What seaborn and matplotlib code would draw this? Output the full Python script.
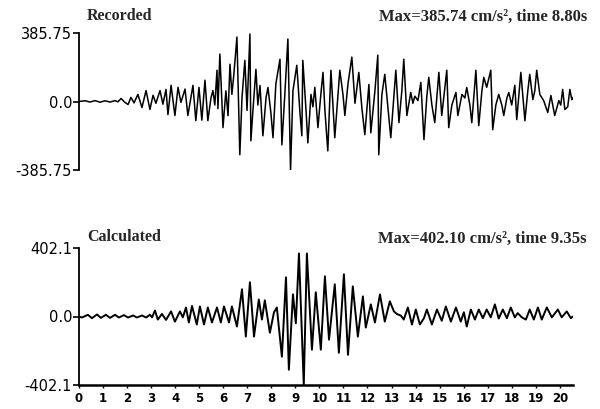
import matplotlib
matplotlib.use("Agg")
import matplotlib.pyplot as plt
import seaborn as sns
import pandas as pd

# ---- data (time in s, acceleration in cm/s^2) ----
rec_t = [0.00, 0.25, 0.46, 0.67, 0.87, 1.08, 1.29, 1.50, 1.62, 1.75, 1.91, 2.04, 2.16, 2.29,
         2.45, 2.62, 2.79, 2.95, 3.08, 3.20, 3.37, 3.49, 3.62, 3.70, 3.83, 3.99, 4.12, 4.24,
         4.41, 4.53, 4.74, 4.86, 4.99, 5.11, 5.24, 5.36, 5.49, 5.57, 5.65, 5.74, 5.78, 5.86,
         5.99, 6.11, 6.20, 6.28, 6.36, 6.44, 6.57, 6.69, 6.78, 6.90, 6.99, 7.11, 7.15, 7.23,
         7.36, 7.44, 7.53, 7.65, 7.78, 7.86, 7.98, 8.07, 8.19, 8.36, 8.44, 8.57, 8.69, 8.80,
         8.90, 9.06, 9.19, 9.27, 9.31, 9.44, 9.52, 9.65, 9.73, 9.81, 9.94, 10.06, 10.15, 10.23,
         10.35, 10.48, 10.64, 10.85, 10.98, 11.06, 11.19, 11.35, 11.48, 11.64, 11.77, 11.89,
         12.06, 12.14, 12.31, 12.43, 12.47, 12.60, 12.72, 12.85, 12.97, 13.18, 13.31, 13.43,
         13.51, 13.64, 13.80, 13.89, 13.97, 14.10, 14.22, 14.35, 14.47, 14.55, 14.68, 14.80,
         14.97, 15.09, 15.30, 15.38, 15.51, 15.68, 15.76, 15.93, 16.05, 16.13, 16.26, 16.34,
         16.51, 16.63, 16.76, 16.84, 16.96, 17.13, 17.21, 17.34, 17.46, 17.59, 17.67, 17.80,
         17.88, 18.00, 18.13, 18.21, 18.38, 18.55, 18.67, 18.75, 18.88, 18.96, 19.04, 19.17,
         19.33, 19.42, 19.50, 19.63, 19.79, 19.96, 20.04, 20.12, 20.21, 20.33, 20.42, 20.50, 20.54]
rec_a = [0, 4, -3, 5, -4, 4, -3, 5, -2, 17, -5, -17, 23, -8,
         40, -34, 62, -45, 35, -10, 62, -15, 68, -74, 91, -79, 80, -5,
         70, -79, 91, -108, 80, -105, 120, -108, 20, 62, -20, 176, -40, 267,
         -147, 60, -80, 210, 40, 150, 363, -300, 20, 232, -50, 380, -221, -60,
         181, -20, 90, -193, 20, 79, -60, -204, 100, 238, -244, 60, 352, -385.74,
         60, 204, -60, -193, 232, -40, -233, 40, -30, 80, -147, 40, 164, -50,
         -278, 176, -204, 176, 40, -79, 100, 250, -10, 164, -40, -187,
         96, -176, 60, 261, -300, 40, 153, -30, -204, 176, -119, 60,
         238, -79, 51, -10, 30, 5, 108, -215, 30, 136, -20, -119,
         164, -79, 176, -147, -20, 51, -79, 40, 20, 79, -20, -119,
         176, -136, 60, 136, 80, 176, -159, -20, 40, -20, -79, 20,
         51, -20, 91, -102, 164, -108, 60, 153, 11, 60, 176, 40,
         5, -30, -62, 34, -79, 5, -20, 68, -45, -30, 68, 10, 23]

calc_t = [0.00, 0.12, 0.37, 0.54, 0.75, 0.91, 1.12, 1.29, 1.50, 1.66, 1.87, 2.04, 2.25, 2.41,
          2.62, 2.79, 2.95, 3.04, 3.16, 3.28, 3.45, 3.62, 3.83, 3.99, 4.20, 4.32, 4.45, 4.57,
          4.70, 4.90, 5.03, 5.20, 5.36, 5.53, 5.74, 5.90, 6.03, 6.24, 6.36, 6.57, 6.78, 6.94,
          7.11, 7.28, 7.48, 7.61, 7.73, 7.94, 8.11, 8.23, 8.44, 8.61, 8.73, 8.90, 9.02, 9.15,
          9.35, 9.48, 9.69, 9.85, 10.06, 10.23, 10.40, 10.64, 10.81, 11.02, 11.19, 11.39, 11.60,
          11.81, 11.93, 12.14, 12.31, 12.52, 12.72, 12.93, 13.10, 13.22, 13.39, 13.51, 13.68,
          13.85, 14.01, 14.18, 14.35, 14.47, 14.68, 14.89, 15.09, 15.26, 15.47, 15.68, 15.88,
          16.01, 16.13, 16.30, 16.47, 16.63, 16.80, 16.96, 17.13, 17.30, 17.46, 17.63, 17.80,
          17.96, 18.13, 18.25, 18.42, 18.59, 18.75, 18.92, 19.09, 19.25, 19.46, 19.67, 19.92,
          20.08, 20.29, 20.46, 20.54]
calc_a = [0, -6, 10, -10, 12, -8, 10, -8, 10, -6, 8, -6, 6, -6,
          6, -6, 10, -5, 35, -18, 15, -20, 30, -30, 30, -5, 53, -35,
          62, -47, 59, -47, 53, -35, 53, -35, 59, -35, 59, -59, 160, -118,
          201, -118, 100, -18, 95, -95, 24, 53, -236, 230, -313, 130, -40, 370,
          -402.1, 370, -195, 142, -195, 236, -136, 189, -213, 248, -225, 177, -118,
          118, -65, 71, -35, 130, -30, 89, 30, 15, 5, -18, 53,
          -47, 41, -47, -10, 41, -47, 41, -25, 59, -30, 53, -30,
          25, -59, 41, -18, 41, -10, 41, -5, 71, -12, 41, -10,
          53, -5, 20, -5, -18, 41, -18, 53, -18, 53, -5, 41,
          -5, 30, -10, 0]

x_ticks = list(range(0, 21))
rec_lim = 385.75
calc_lim = 402.1
rec_title = "Recorded"
rec_max = "Max=385.74 cm/s², time 8.80s"
calc_title = "Calculated"
calc_max = "Max=402.10 cm/s², time 9.35s"

rec_df = pd.DataFrame({"t": rec_t, "a": rec_a})
calc_df = pd.DataFrame({"t": calc_t, "a": calc_a})

sns.set_theme(style="white")
plt.rcParams["font.family"] = ["DejaVu Sans"]

fig = plt.figure(figsize=(6.0, 4.09), dpi=100)
ax1 = fig.add_axes([79 / 600, 1 - 170 / 409, 494 / 600, 137 / 409])
ax2 = fig.add_axes([79 / 600, 1 - 385 / 409, 494 / 600, 137 / 409])

sns.lineplot(data=rec_df, x="t", y="a", ax=ax1, color="black", linewidth=1.1,
             estimator=None, sort=False)
sns.lineplot(data=calc_df, x="t", y="a", ax=ax2, color="black", linewidth=1.4,
             estimator=None, sort=False)
for ax in (ax1, ax2):
    for ln in ax.get_lines():
        ln.set_solid_joinstyle("round")

for ax, lim in ((ax1, rec_lim), (ax2, calc_lim)):
    ax.set_xlim(0, 20.55)
    ax.set_ylim(-lim, lim)
    ax.set_xlabel("")
    ax.set_ylabel("")
    ax.patch.set_alpha(0)
    for s in ("top", "right"):
        ax.spines[s].set_visible(False)
    ax.spines["left"].set_color("black")
    ax.spines["left"].set_linewidth(1.3)
    ax.set_yticks([lim, 0, -lim])
    ax.tick_params(axis="y", which="both", left=True, length=4, width=1.2,
                   direction="out", pad=1, labelsize=10.5, colors="black")

ax1.set_yticklabels(["385.75", "0.0", "-385.75"])
ax2.set_yticklabels(["402.1", "0.0", "-402.1"])

ax1.spines["bottom"].set_visible(False)
ax1.set_xticks([])

ax2.spines["bottom"].set_color("black")
ax2.spines["bottom"].set_linewidth(1.8)
ax2.set_xticks(x_ticks)
ax2.set_xticklabels([str(v) for v in x_ticks])
ax2.tick_params(axis="x", bottom=True, length=2, width=1, direction="out", pad=3,
                labelsize=8.5, colors="black")
for lbl in ax2.get_xticklabels():
    lbl.set_fontweight("bold")

serif = ["Liberation Serif", "DejaVu Serif"]
fig.text(87 / 600, 1 - 16 / 409, rec_title, family=serif, fontweight="bold",
         fontsize=11.5, ha="left", va="center")
fig.text(587 / 600, 1 - 17 / 409, rec_max, family=serif, fontweight="bold",
         fontsize=12, ha="right", va="center")
fig.text(87 / 600, 1 - 237 / 409, calc_title, family=serif, fontweight="bold",
         fontsize=11.5, ha="left", va="center")
fig.text(587 / 600, 1 - 239 / 409, calc_max, family=serif, fontweight="bold",
         fontsize=12, ha="right", va="center")

fig.savefig("out.png", dpi=100)
